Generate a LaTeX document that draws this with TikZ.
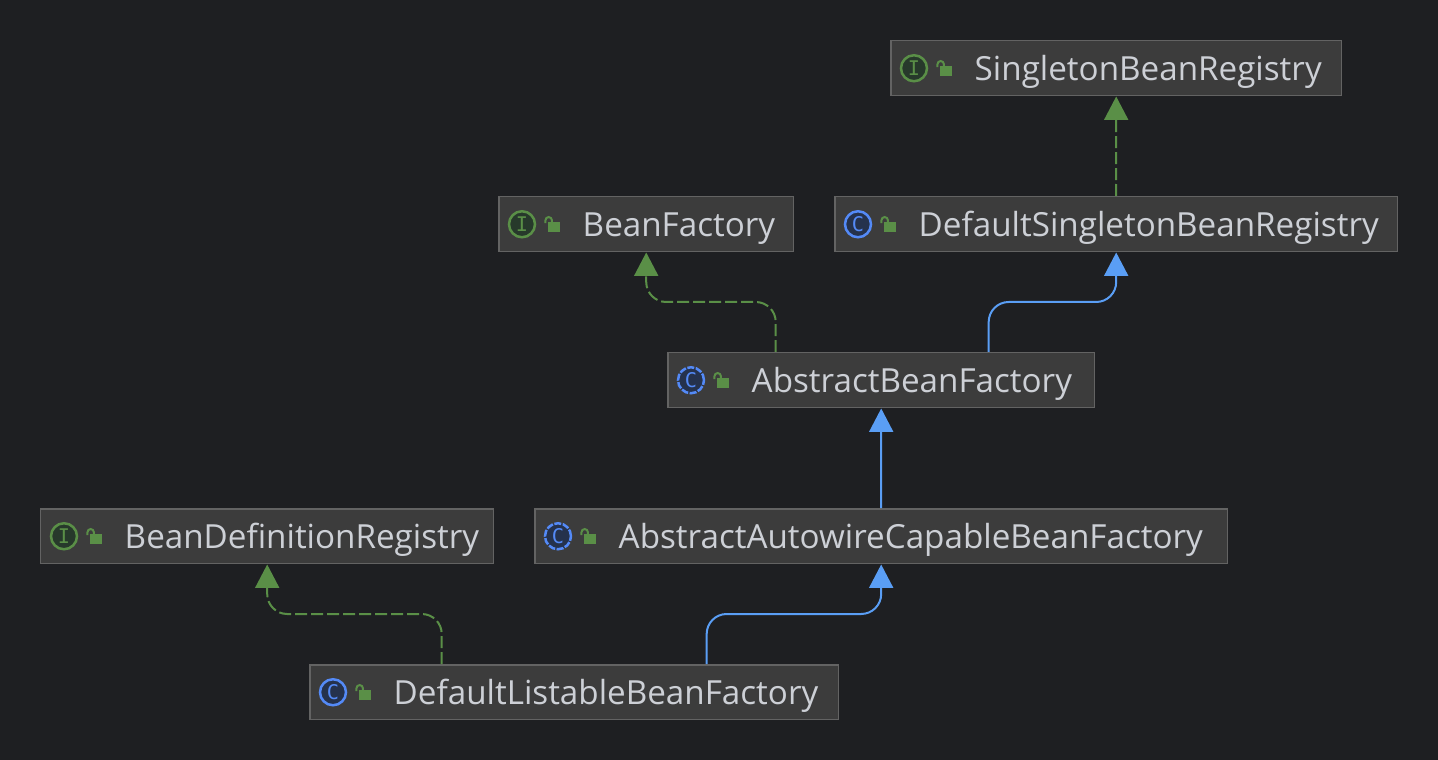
\documentclass[tikz,border=0pt]{standalone}
\usepackage{fontspec}
\setmainfont{Open Sans}
\newfontfamily\iconfont{DejaVu Sans Mono}
\usetikzlibrary{arrows.meta}
\definecolor{canvas}{HTML}{1E1F22}
\definecolor{boxfill}{HTML}{3C3C3C}
\definecolor{boxline}{HTML}{636363}
\definecolor{labeltext}{HTML}{CDD0D6}
\definecolor{implgreen}{HTML}{5A8F47}
\definecolor{extblue}{HTML}{5A9EF5}
\definecolor{ifacefill}{HTML}{27392B}
\definecolor{iconblue}{HTML}{548AF7}
\definecolor{classfill}{HTML}{25324D}
\tikzset{
  classbox/.style={draw=boxline,fill=boxfill,line width=0.03cm,text=labeltext,
    anchor=north west,align=left,text width=#1,inner xsep=0pt,inner ysep=0pt,
    minimum height=1.1cm,text height=0.6cm,text depth=0.12cm,
    font=\fontsize{18.9pt}{22pt}\selectfont,
    execute at begin node={\hspace*{1.68cm}}},
  ifaceicon/.style={circle,draw=implgreen,fill=ifacefill,line width=0.05cm,text=implgreen,
    minimum size=0.52cm,inner sep=0pt,font=\iconfont\fontsize{11.5pt}{11.5pt}\selectfont},
  classicon/.style={ifaceicon,draw=iconblue,fill=classfill,text=iconblue},
  abstracticon/.style={classicon,dash pattern=on 0.14cm off 0.03cm},
  lockicon/.pic={
    \fill[implgreen] (-6,-2) rectangle (6.5,8);
    \draw[implgreen,line width=0.04cm] (-8.5,-1) -- (-8.5,-4) arc (180:360:3.2) -- (-2.1,-2);
  },
  implements/.style={draw=implgreen,line width=0.04cm,rounded corners=0.4cm,
    dash pattern=on 0.24cm off 0.08cm,-{Triangle[length=0.47cm,width=0.48cm]}},
  extends/.style={draw=extblue,line width=0.04cm,rounded corners=0.4cm,
    -{Triangle[length=0.47cm,width=0.48cm]}}
}
\begin{document}
\begin{tikzpicture}[x=0.02cm,y=-0.02cm]
    \useasboundingbox[fill=canvas] (0,0) rectangle (1438,760);

    \node[classbox=9.02cm] (sbr) at (890,40) {SingletonBeanRegistry};
    \node[classbox=11.26cm] (dsbr) at (834,196) {DefaultSingletonBeanRegistry};
    \node[classbox=5.90cm] (bf) at (498,196) {BeanFactory};
    \node[classbox=8.54cm] (abf) at (667,352) {AbstractBeanFactory};
    \node[classbox=9.06cm] (bdr) at (40,508) {BeanDefinitionRegistry};
    \node[classbox=13.86cm] (aacbf) at (534,508) {AbstractAutowireCapableBeanFactory};
    \node[classbox=10.58cm] (dlbf) at (309,664) {DefaultListableBeanFactory};

    \node[ifaceicon] (sbrIcon) at ([xshift=0.48cm]sbr.west) {I};
    \node[classicon] (dsbrIcon) at ([xshift=0.48cm]dsbr.west) {C};
    \node[ifaceicon] (bfIcon) at ([xshift=0.48cm]bf.west) {I};
    \node[abstracticon] (abfIcon) at ([xshift=0.48cm]abf.west) {C};
    \node[ifaceicon] (bdrIcon) at ([xshift=0.48cm]bdr.west) {I};
    \node[abstracticon] (aacbfIcon) at ([xshift=0.48cm]aacbf.west) {C};
    \node[classicon] (dlbfIcon) at ([xshift=0.48cm]dlbf.west) {C};

    \foreach \n in {sbr,dsbr,bf,abf,bdr,aacbf,dlbf}
        \pic at ([xshift=1.12cm]\n.west) {lockicon};

    \draw[implements] (dsbr.north) -- (sbr.south);
    \draw[extends] (aacbf.north) -- (abf.south);
    \draw[implements] ([xshift=-2.11cm]abf.north) -- ++(0,-50) -| (bf.south);
    \draw[extends] ([xshift=2.15cm]abf.north) -- ++(0,-50) -| (dsbr.south);
    \draw[implements] ([xshift=-2.65cm]dlbf.north) -- ++(0,-50) -| (bdr.south);
    \draw[extends] ([xshift=2.65cm]dlbf.north) -- ++(0,-50) -| (aacbf.south);
\end{tikzpicture}
\end{document}
